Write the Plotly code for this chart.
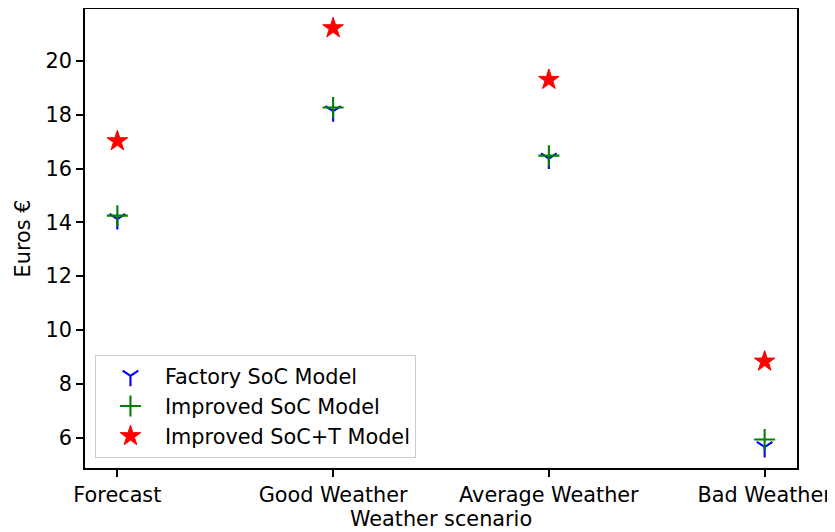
import plotly.graph_objects as go

categories = ["Forecast", "Good Weather", "Average Weather", "Bad Weather"]
factory_soc = [14.12, 18.13, 16.37, 5.65]
improved_soc = [14.25, 18.27, 16.48, 5.93]
improved_soc_t = [17.02, 21.22, 19.30, 8.83]
y_ticks = [6, 8, 10, 12, 14, 16, 18, 20]

FONT = "DejaVu Sans"
FS = 20.8

fig = go.Figure()
fig.add_trace(go.Scatter(
    x=categories, y=factory_soc, mode="markers", name="Factory SoC Model",
    marker=dict(symbol="y-down", size=13, color="#0000ff",
                line=dict(color="#0000ff", width=2.1)),
))
fig.add_trace(go.Scatter(
    x=categories, y=improved_soc, mode="markers", name="Improved SoC Model",
    marker=dict(symbol="cross-thin", size=15, color="#008000",
                line=dict(color="#008000", width=2.1)),
))
fig.add_trace(go.Scatter(
    x=categories, y=improved_soc_t, mode="markers", name="Improved SoC+T Model",
    marker=dict(symbol="star", size=15.5, color="#ff0000",
                line=dict(color="#ff0000", width=1)),
))

axis_common = dict(
    showline=True, linecolor="black", linewidth=1.67, mirror=True,
    ticks="outside", ticklen=7, tickwidth=1.67, tickcolor="black",
    showgrid=False, zeroline=False, automargin=False,
    tickfont=dict(family=FONT, size=FS, color="black"),
)

# the page body has an 8px margin, so the figure is sized/offset to compensate
fig.update_layout(
    width=829, height=524,
    margin=dict(l=77, r=40, t=1, b=64),
    paper_bgcolor="white", plot_bgcolor="white",
    font=dict(family=FONT, size=FS, color="black"),
    xaxis=dict(
        type="category", categoryorder="array", categoryarray=categories,
        range=[-0.15, 3.15],
        title=dict(text="Weather scenario", font=dict(family=FONT, size=FS), standoff=2),
        **axis_common,
    ),
    yaxis=dict(
        range=[4.87, 21.93], tickvals=y_ticks,
        title=dict(text="Euros €", font=dict(family=FONT, size=FS), standoff=9),
        **axis_common,
    ),
    legend=dict(
        x=0.014, y=0.022, xanchor="left", yanchor="bottom",
        bgcolor="rgba(255,255,255,0.8)", bordercolor="#cccccc", borderwidth=1,
        font=dict(family=FONT, size=FS, color="black"),
        itemwidth=59,
    ),
    showlegend=True,
)

fig.write_html("out.html")
